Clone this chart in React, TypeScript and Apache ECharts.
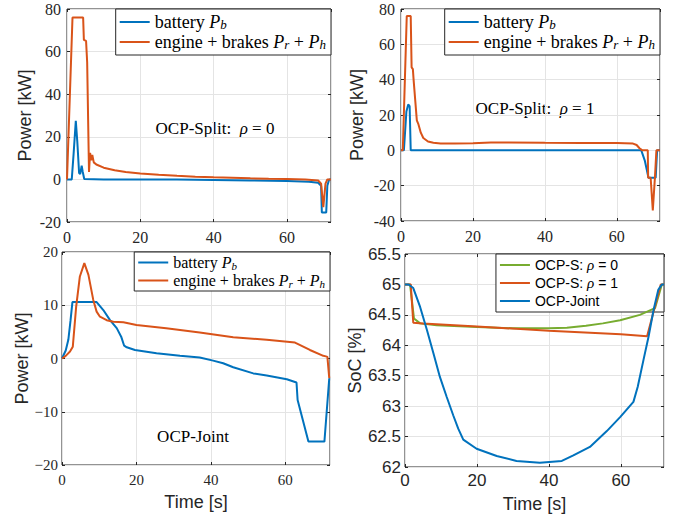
import React, { useEffect, useRef } from 'react';
import * as echarts from 'echarts';

// ---------- data (time [s], value) ----------
const splitRho0Battery: [number, number][] = [
  [0, 0], [1.3, 0], [1.8, 12], [2.4, 27.5], [2.8, 18], [3.3, 3], [3.6, 2.5], [4.0, 6.5], [4.3, 3.5], [4.7, 0.2],
  [10, 0], [20, 0], [30, -0.1], [40, -0.3], [50, -0.5], [60, -0.8], [66, -1.1], [68.5, -1.6], [69.3, -3],
  [69.5, -15.5], [70.7, -15.5], [71.0, -3], [71.5, 0], [72, 0],
];
const splitRho0Engine: [number, number][] = [
  [0, 0], [1.5, 76], [4.4, 76], [4.6, 65.5], [5.2, 65], [5.5, 55], [6.0, 3.5], [6.3, 12.5], [6.6, 9], [6.9, 11.5],
  [7.3, 8], [8, 7], [10, 5.5], [13, 4.3], [16, 3.5], [20, 2.8], [25, 2.2], [30, 1.7], [35, 1.3], [40, 1.0],
  [45, 0.8], [50, 0.5], [55, 0.3], [60, 0.2], [65, 0], [68.5, -0.5], [69.3, -2], [69.9, -13], [70.5, -2], [71, 0], [72, 0],
];
const splitRho1Battery: [number, number][] = [
  [0, 0], [0.8, 0], [1.5, 22], [2.0, 26], [2.4, 25], [2.7, 0], [3, 0], [66.8, 0], [67.8, -6], [68.8, -15.5],
  [70.8, -15.5], [71.2, 0], [72, 0],
];
const splitRho1Engine: [number, number][] = [
  [0, 0], [0.5, 0], [1.6, 76], [2.7, 76], [2.95, 47], [3.3, 46], [3.5, 40], [4.4, 17], [4.8, 15], [5.5, 10],
  [6.2, 7], [7.5, 5], [9, 4.3], [11, 3.9], [15, 3.8], [20, 4.0], [25, 4.4], [30, 4.5], [40, 4.3], [50, 4.2],
  [60, 4.2], [64.5, 3.8], [65.5, 3], [66.3, 1.2], [67.1, 0], [68.6, 0], [68.7, -15.5], [69.4, -15.5], [70.0, -34],
  [70.6, -15], [71.0, 0], [72, 0],
];
const jointBattery: [number, number][] = [
  [0, 0], [1, 1.5], [1.7, 3.5], [2.3, 7.2], [2.8, 10.6], [9.3, 10.6], [11.1, 9.1], [12.9, 7.2], [14.7, 5.7],
  [15.9, 4.1], [16.7, 2.4], [17.4, 2.1], [19.6, 1.6], [25.4, 1.0], [31.7, 0.5], [37, 0.2], [40.6, -0.4],
  [43.3, -0.9], [46, -1.65], [51.4, -2.8], [55, -3.2], [60.4, -3.9], [63, -4.5], [63.3, -7.8], [66.2, -15.6],
  [70.5, -15.6], [71.8, -3.7],
];
const jointEngine: [number, number][] = [
  [0, 0], [1, 0.5], [2.15, 1.3], [2.9, 2.2], [3.8, 9.7], [4.8, 15.4], [6.0, 17.9], [7.1, 15.7], [8.4, 11],
  [9.3, 8.8], [10.2, 7.85], [12, 7.2], [13.8, 6.9], [16.5, 6.8], [20, 6.3], [28, 5.7], [37, 4.9], [46, 4.0],
  [55, 3.5], [62.6, 3.0], [66.6, 1.6], [70.2, 0.5], [70.9, 0.4], [71.3, 0.3], [71.8, -3.7],
];
const socSplitRho0: [number, number][] = [
  [0, 65], [1.4, 65], [2.5, 64.44], [4.2, 64.36], [8.8, 64.33], [20, 64.3], [30, 64.28], [40, 64.28], [45, 64.29],
  [50.3, 64.32], [55, 64.36], [59.8, 64.41], [65.3, 64.5], [69.5, 64.61], [71.4, 65], [72, 65],
];
const socSplitRho1: [number, number][] = [
  [0, 65], [1.6, 65], [2.3, 64.37], [5, 64.36], [20, 64.31], [40, 64.24], [60, 64.18], [67.3, 64.15], [71.1, 65], [72, 65],
];
const socJoint: [number, number][] = [
  [0, 65], [1, 65], [2.3, 64.94], [4.2, 64.63], [6.1, 64.25], [7.9, 63.87], [9.7, 63.48], [11.6, 63.15],
  [13.4, 62.85], [14.8, 62.63], [16.2, 62.45], [19.9, 62.3], [25.5, 62.18], [31, 62.1], [37.5, 62.07],
  [43.6, 62.1], [46.8, 62.19], [51.4, 62.33], [56.1, 62.59], [59.8, 62.82], [63.5, 63.07], [64.7, 63.32],
  [66.3, 63.76], [67.7, 64.14], [69.1, 64.58], [70.4, 64.91], [71.4, 65], [72, 65],
];

const xTicks = { min: 0, max: 72, interval: 20 };
const yRanges = [
  { min: -20, max: 80, interval: 20 },
  { min: -40, max: 80, interval: 20 },
  { min: -20, max: 20, interval: 10 },
  { min: 62, max: 65.5, interval: 0.5 },
];

// ---------- styles ----------
const BLUE = '#0072BD';
const ORANGE = '#D95319';
const GREEN = '#77AC30';
const AXIS = '#262626';
const GRIDC = '#e4e4e4';
const SERIF = "'Liberation Serif', 'Times New Roman', serif";
const SANS = "'Liberation Sans', Arial, Helvetica, sans-serif";

const grids = [
  { left: 67, top: 9, width: 264, height: 213 },
  { left: 401, top: 9, width: 259, height: 212 },
  { left: 62, top: 252, width: 268, height: 213 },
  { left: 405, top: 254, width: 259, height: 213 },
];

const panelCfg = [
  { font: SERIF, size: 16, yMargin: 6, xMargin: 7, yName: 'Power [kW]', yGap: 33, xName: '', xGap: 0, minus: '-' },
  { font: SERIF, size: 16, yMargin: 6, xMargin: 7, yName: 'Power [kW]', yGap: 35, xName: '', xGap: 0, minus: '-' },
  { font: SERIF, size: 15, yMargin: 4, xMargin: 7, yName: 'Power [kW]', yGap: 28, xName: 'Time [s]', xGap: 28, minus: '\u2212' },
  { font: SANS, size: 17, yMargin: 4, xMargin: 5, yName: 'SoC [%]', yGap: 41, xName: 'Time [s]', xGap: 28, minus: '-' },
];

function serifRich(size: number, lh: number) {
  return {
    n: { fontFamily: SERIF, fontSize: size, lineHeight: lh, color: '#000' },
    i: { fontFamily: SERIF, fontSize: size, fontStyle: 'italic', lineHeight: lh, color: '#000' },
    s: { fontFamily: SERIF, fontSize: Math.round(size * 0.7), fontStyle: 'italic', lineHeight: 6, verticalAlign: 'bottom', color: '#000' },
  };
}

const legendLabels: Record<string, string> = {
  'bat-s0': '{n|battery }{i|P}{s|b}',
  'eng-s0': '{n|engine + brakes }{i|P}{s|r}{n| + }{i|P}{s|h}',
  'bat-s1': '{n|battery }{i|P}{s|b}',
  'eng-s1': '{n|engine + brakes }{i|P}{s|r}{n| + }{i|P}{s|h}',
  'bat-j': '{n|battery }{i|P}{s|b}',
  'eng-j': '{n|engine + brakes }{i|P}{s|r}{n| + }{i|P}{s|h}',
  'soc-s0': '{n|OCP-S: }{i|ρ}{n| = 0}',
  'soc-s1': '{n|OCP-S: }{i|ρ}{n| = 1}',
  'soc-j': '{n|OCP-Joint}',
};

function buildOption() {
  const xAxis: any[] = [];
  const yAxis: any[] = [];
  grids.forEach((_, g) => {
    const c = panelCfg[g];
    const fmt = (v: number) => (v < 0 ? c.minus + String(Math.abs(v)) : String(v));
    xAxis.push({
      type: 'value', gridIndex: g, ...xTicks,
      axisLine: { show: false, onZero: false },
      axisTick: { show: true, inside: true, length: 3, lineStyle: { color: AXIS } },
      axisLabel: { showMaxLabel: false, color: AXIS, fontFamily: c.font, fontSize: c.size, margin: c.xMargin },
      splitLine: { show: true, lineStyle: { color: GRIDC, width: 1 } },
      name: c.xName, nameLocation: 'middle', nameGap: c.xGap,
      nameTextStyle: { fontFamily: SANS, fontSize: 18, color: AXIS },
    });
    xAxis.push({
      type: 'value', gridIndex: g, position: 'top', ...xTicks,
      axisLine: { show: false, onZero: false },
      axisTick: { show: true, inside: true, length: 3, lineStyle: { color: AXIS } },
      axisLabel: { show: false },
      splitLine: { show: false },
    });
    yAxis.push({
      type: 'value', gridIndex: g, ...yRanges[g],
      axisLine: { show: false, onZero: false },
      axisTick: { show: true, inside: true, length: 3, lineStyle: { color: AXIS } },
      axisLabel: { color: AXIS, fontFamily: c.font, fontSize: c.size, margin: c.yMargin, formatter: fmt },
      splitLine: { show: true, lineStyle: { color: GRIDC, width: 1 } },
      name: c.yName, nameLocation: 'middle', nameGap: c.yGap,
      nameTextStyle: { fontFamily: SANS, fontSize: 18, color: AXIS },
    });
    yAxis.push({
      type: 'value', gridIndex: g, position: 'right', ...yRanges[g],
      axisLine: { show: false, onZero: false },
      axisTick: { show: true, inside: true, length: 3, lineStyle: { color: AXIS } },
      axisLabel: { show: false },
      splitLine: { show: false },
    });
  });

  const line = (name: string, g: number, data: [number, number][], color: string) => ({
    type: 'line', name, xAxisIndex: 2 * g, yAxisIndex: 2 * g, data,
    symbol: 'none', showSymbol: false, clip: true, z: 3,
    lineStyle: { width: 2, color }, itemStyle: { color },
  });

  const series = [
    line('bat-s0', 0, splitRho0Battery, BLUE),
    line('eng-s0', 0, splitRho0Engine, ORANGE),
    line('bat-s1', 1, splitRho1Battery, BLUE),
    line('eng-s1', 1, splitRho1Engine, ORANGE),
    line('bat-j', 2, jointBattery, BLUE),
    line('eng-j', 2, jointEngine, ORANGE),
    line('soc-s0', 3, socSplitRho0, GREEN),
    line('soc-s1', 3, socSplitRho1, ORANGE),
    line('soc-j', 3, socJoint, BLUE),
  ];

  const legendBase = {
    orient: 'vertical', align: 'left', icon: 'rect', itemWidth: 30, itemHeight: 2,
    backgroundColor: '#fff', borderColor: AXIS, borderWidth: 1, borderRadius: 0,
    selectedMode: false, formatter: (n: string) => legendLabels[n] ?? n,
  };
  const sansRich = {
    n: { fontFamily: SANS, fontSize: 14, lineHeight: 16, color: '#000' },
    i: { fontFamily: SERIF, fontSize: 15, fontStyle: 'italic', lineHeight: 16, color: '#000' },
  };

  const legend = [
    { ...legendBase, data: ['bat-s0', 'eng-s0'], right: 683 - 331, top: 9, itemGap: 2, padding: [4, 5, 4, 4],
      textStyle: { fontFamily: SERIF, fontSize: 18, lineHeight: 18, rich: serifRich(18, 18) } },
    { ...legendBase, data: ['bat-s1', 'eng-s1'], right: 683 - 660, top: 9, itemGap: 2, padding: [4, 5, 4, 4],
      textStyle: { fontFamily: SERIF, fontSize: 18, lineHeight: 18, rich: serifRich(18, 18) } },
    { ...legendBase, data: ['bat-j', 'eng-j'], right: 683 - 330, top: 252, itemGap: 1, padding: [2, 5, 2, 4],
      textStyle: { fontFamily: SERIF, fontSize: 16, lineHeight: 17, rich: serifRich(16, 17) } },
    { ...legendBase, data: ['soc-s0', 'soc-s1', 'soc-j'], right: 683 - 664, top: 254, itemGap: 2, padding: [3, 46, 3, 4],
      z: 1, textStyle: { fontFamily: SANS, fontSize: 14, lineHeight: 16, rich: sansRich } },
  ];

  const annRich = {
    n: { fontFamily: SERIF, fontSize: 17, fill: '#000', color: '#000' },
    i: { fontFamily: SERIF, fontSize: 17, fontStyle: 'italic', fill: '#000', color: '#000' },
  };
  const graphic = [
    { type: 'text', x: 215, y: 128, style: { text: '{n|OCP-Split:  }{i|ρ}{n| = 0}', align: 'center', verticalAlign: 'middle', rich: annRich } },
    { type: 'text', x: 535, y: 108, style: { text: '{n|OCP-Split:  }{i|ρ}{n| = 1}', align: 'center', verticalAlign: 'middle', rich: annRich } },
    { type: 'text', x: 193, y: 436, style: { text: 'OCP-Joint', align: 'center', verticalAlign: 'middle', fontFamily: SERIF, fontSize: 17, fill: '#000' } },
  ];

  return {
    animation: false,
    backgroundColor: '#fff',
    grid: grids.map((g) => ({ ...g, show: true, borderColor: AXIS, borderWidth: 1, backgroundColor: 'transparent' })),
    xAxis, yAxis, series, legend, graphic,
  };
}

export default function App() {
  const ref = useRef<HTMLDivElement>(null);
  useEffect(() => {
    if (!ref.current) return;
    const chart = echarts.init(ref.current, undefined, { renderer: 'svg' });
    chart.setOption(buildOption() as any);
    return () => chart.dispose();
  }, []);
  return <div ref={ref} style={{ position: 'fixed', left: 0, top: 0, width: 683, height: 515, background: '#fff' }} />;
}
